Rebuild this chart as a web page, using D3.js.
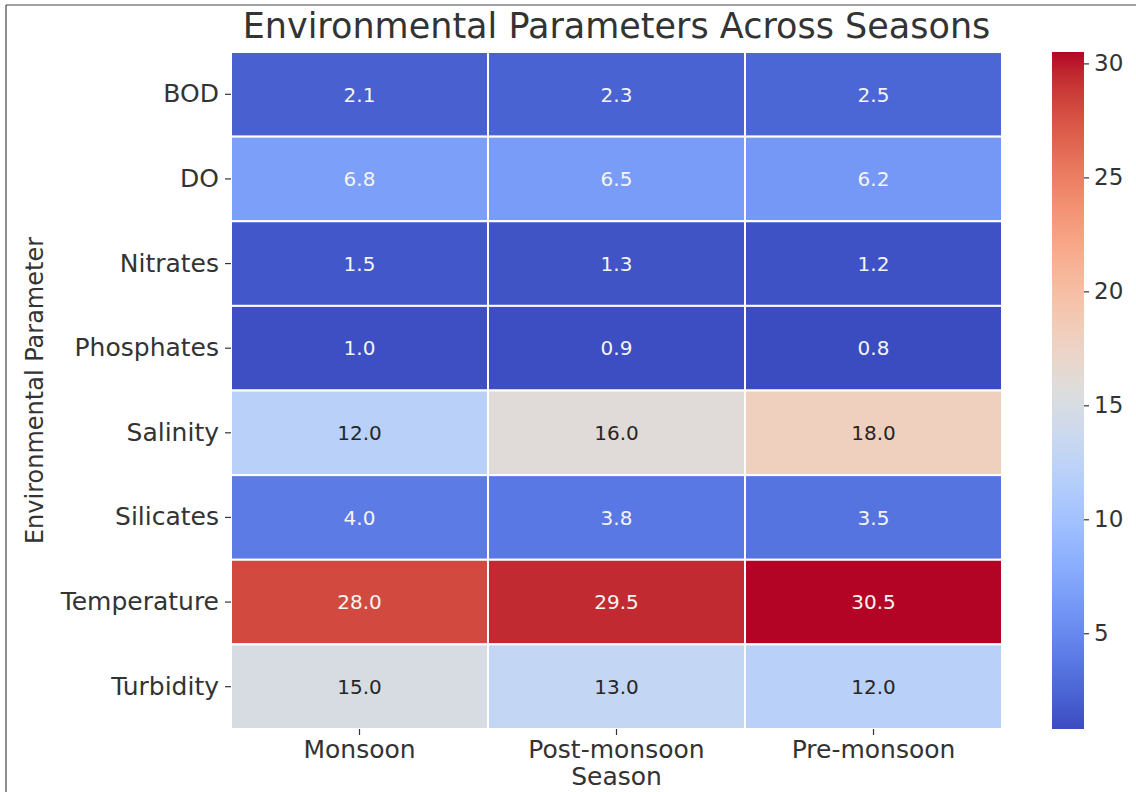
<!DOCTYPE html>
<html>
<head>
<meta charset="utf-8">
<script src="https://cdn.jsdelivr.net/npm/d3@7"></script>
<style>
  html, body { margin: 0; padding: 0; background: #fff; }
  svg { display: block; font-family: "DejaVu Sans", sans-serif; }
</style>
</head>
<body>
<svg id="chart" width="1136" height="792"></svg>
<script>
// Seasonal environmental readings
const parameters = ["BOD", "DO", "Nitrates", "Phosphates", "Salinity", "Silicates", "Temperature", "Turbidity"];
const seasons = ["Monsoon", "Post-monsoon", "Pre-monsoon"];
const monsoon     = [2.1, 6.8, 1.5, 1.0, 12.0, 4.0, 28.0, 15.0];
const postMonsoon = [2.3, 6.5, 1.3, 0.9, 16.0, 3.8, 29.5, 13.0];
const preMonsoon  = [2.5, 6.2, 1.2, 0.8, 18.0, 3.5, 30.5, 12.0];
const colorbarTicks = [5, 10, 15, 20, 25, 30];

const seriesBySeason = [monsoon, postMonsoon, preMonsoon];

// Diverging "coolwarm" colour map (Moreland), 33 control points
const coolwarmStops = [
  [59,76,192],[68,90,204],[77,104,215],[87,117,225],[98,130,234],[108,142,241],
  [119,154,247],[130,165,251],[141,176,254],[152,185,255],[163,194,255],[174,201,253],
  [184,208,249],[194,213,244],[204,217,238],[213,219,230],[221,221,221],[229,216,209],
  [236,211,197],[241,204,184],[245,196,172],[247,187,159],[247,177,147],[247,166,134],
  [244,154,123],[241,141,111],[236,127,99],[229,112,89],[222,96,77],[213,80,66],
  [203,62,56],[192,40,47],[180,4,38]
].map(c => d3.rgb(c[0], c[1], c[2]).formatHex());

const coolwarm = d3.scaleLinear()
  .domain(coolwarmStops.map((_, i) => i / (coolwarmStops.length - 1)))
  .range(coolwarmStops)
  .interpolate(d3.interpolateRgb)
  .clamp(true);

const allValues = seriesBySeason.flat();
const vmin = d3.min(allValues), vmax = d3.max(allValues);
const norm = d3.scaleLinear().domain([vmin, vmax]).range([0, 1]).clamp(true);
const colorOf = v => coolwarm(norm(v));

// Layout
const plot = { left: 231, right: 1002, top: 52, bottom: 729 };
const cbar = { left: 1052, right: 1084, top: 52, bottom: 729 };

const svg = d3.select("#chart");
const textColor = "#333333";

// Thin frame along the left and top edges
svg.append("line").attr("x1", 6).attr("y1", 5).attr("x2", 6).attr("y2", 792)
  .attr("stroke", "#444").attr("stroke-width", 1.2);
svg.append("line").attr("x1", 6).attr("y1", 5).attr("x2", 1136).attr("y2", 5)
  .attr("stroke", "#444").attr("stroke-width", 1.2);

const x = d3.scaleBand().domain(seasons).range([plot.left, plot.right]).padding(0);
const y = d3.scaleBand().domain(parameters).range([plot.top, plot.bottom]).padding(0);

const cells = [];
seasons.forEach((s, si) => {
  parameters.forEach((p, pi) => {
    cells.push({ season: s, param: p, value: seriesBySeason[si][pi] });
  });
});

// Luminance-based annotation colour
function relLum(hex) {
  const c = d3.rgb(hex);
  const f = v => { v /= 255; return v <= 0.03928 ? v / 12.92 : Math.pow((v + 0.055) / 1.055, 2.4); };
  return 0.2126 * f(c.r) + 0.7152 * f(c.g) + 0.0722 * f(c.b);
}

const g = svg.append("g");
g.selectAll("rect.cell").data(cells).join("rect")
  .attr("class", "cell")
  .attr("x", d => x(d.season))
  .attr("y", d => y(d.param))
  .attr("width", x.bandwidth())
  .attr("height", y.bandwidth())
  .attr("fill", d => colorOf(d.value))
  .attr("stroke", "#ffffff")
  .attr("stroke-width", 2);

g.selectAll("text.annot").data(cells).join("text")
  .attr("class", "annot")
  .attr("x", d => x(d.season) + x.bandwidth() / 2)
  .attr("y", d => y(d.param) + y.bandwidth() / 2)
  .attr("dy", "0.36em")
  .attr("text-anchor", "middle")
  .attr("font-size", 20)
  .attr("fill", d => relLum(colorOf(d.value)) > 0.408 ? "#262626" : "#f4f4f4")
  .text(d => d.value.toFixed(1));

// Y axis (parameters)
const yAxis = svg.append("g")
  .attr("transform", `translate(${plot.left},0)`)
  .call(d3.axisLeft(y).tickSize(6).tickPadding(6));
yAxis.select(".domain").remove();
yAxis.selectAll(".tick line").attr("stroke", "#333").attr("stroke-width", 1.2);
yAxis.selectAll(".tick text")
  .attr("font-size", 25).attr("fill", textColor)
  .attr("font-family", "DejaVu Sans, sans-serif");

// X axis (seasons)
const xAxis = svg.append("g")
  .attr("transform", `translate(0,${plot.bottom})`)
  .call(d3.axisBottom(x).tickSize(6).tickPadding(5));
xAxis.select(".domain").remove();
xAxis.selectAll(".tick line").attr("stroke", "#333").attr("stroke-width", 1.2);
xAxis.selectAll(".tick text")
  .attr("font-size", 25).attr("fill", textColor)
  .attr("font-family", "DejaVu Sans, sans-serif");

// Axis titles
const cx = (plot.left + plot.right) / 2;
svg.append("text")
  .attr("x", cx).attr("y", 785)
  .attr("text-anchor", "middle")
  .attr("font-size", 25).attr("fill", textColor)
  .text("Season");

svg.append("text")
  .attr("transform", `translate(43,${(plot.top + plot.bottom) / 2}) rotate(-90)`)
  .attr("text-anchor", "middle")
  .attr("font-size", 24).attr("fill", textColor)
  .text("Environmental Parameter");

// Chart title
svg.append("text")
  .attr("x", cx).attr("y", 38)
  .attr("text-anchor", "middle")
  .attr("font-size", 35).attr("fill", textColor)
  .text("Environmental Parameters Across Seasons");

// Colour bar
const defs = svg.append("defs");
const grad = defs.append("linearGradient")
  .attr("id", "cbarGrad")
  .attr("x1", 0).attr("y1", 1).attr("x2", 0).attr("y2", 0);
d3.range(0, 1.0001, 1 / 64).forEach(t => {
  grad.append("stop").attr("offset", t).attr("stop-color", coolwarm(t));
});
svg.append("rect")
  .attr("x", cbar.left).attr("y", cbar.top)
  .attr("width", cbar.right - cbar.left).attr("height", cbar.bottom - cbar.top)
  .attr("fill", "url(#cbarGrad)");

const cy = d3.scaleLinear().domain([vmin, vmax]).range([cbar.bottom, cbar.top]);
const cAxis = svg.append("g")
  .attr("transform", `translate(${cbar.right},0)`)
  .call(d3.axisRight(cy).tickValues(colorbarTicks).tickFormat(d3.format("d")).tickSize(5).tickPadding(5));
cAxis.select(".domain").remove();
cAxis.selectAll(".tick line").attr("stroke", "#333").attr("stroke-width", 1.2);
cAxis.selectAll(".tick text")
  .attr("font-size", 23).attr("fill", textColor)
  .attr("font-family", "DejaVu Sans, sans-serif");
</script>
</body>
</html>
